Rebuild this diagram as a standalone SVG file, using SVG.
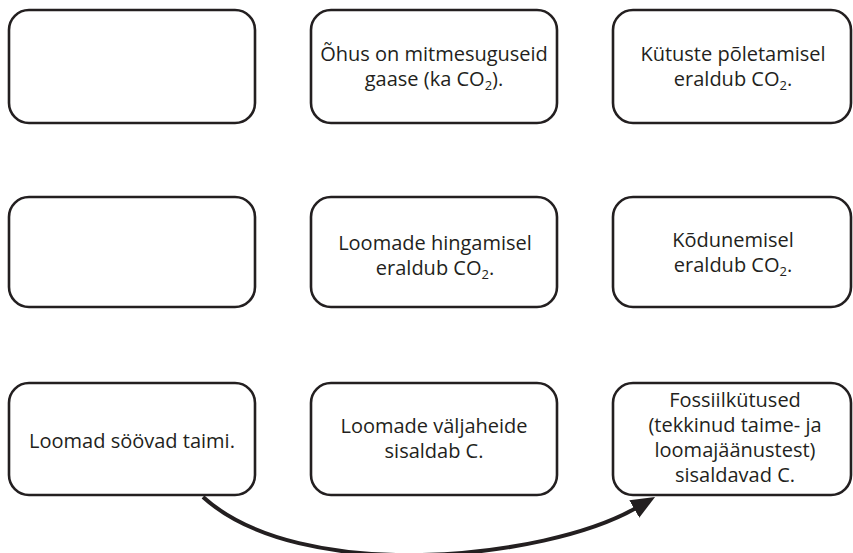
<svg xmlns="http://www.w3.org/2000/svg" width="853" height="553" viewBox="0 0 853 553">
<defs>
<style>
.box{fill:#fff;stroke:#231f20;stroke-width:2.6}
.t{font-family:"Open Sans","Noto Sans","Liberation Sans",sans-serif;font-size:20px;fill:#231f20;text-anchor:middle}
.sub{font-size:13px}
.conn{fill:none;stroke:#231f20;stroke-width:4}
</style>
<marker id="ah" markerUnits="userSpaceOnUse" markerWidth="26" markerHeight="22" refX="2" refY="10" orient="auto" viewBox="0 0 26 22">
<path d="M0,0 L24,10 L0,20 Z" fill="#231f20"/>
</marker>
</defs>
<rect width="853" height="553" fill="#fff"/>
<g id="n1"><rect class="box" x="9" y="10" width="246" height="113" rx="20"/></g>
<g id="n2"><rect class="box" x="311" y="10" width="246" height="113" rx="20"/>
<text class="t" x="434" y="61">Õhus on mitmesuguseid</text>
<text class="t" x="434" y="86">gaase (ka CO<tspan class="sub" dy="4">2</tspan><tspan dy="-4">).</tspan></text></g>
<g id="n3"><rect class="box" x="613" y="10" width="238" height="113" rx="20"/>
<text class="t" x="733" y="61">Kütuste põletamisel</text>
<text class="t" x="733" y="86">eraldub CO<tspan class="sub" dy="4">2</tspan><tspan dy="-4">.</tspan></text></g>
<g id="n4"><rect class="box" x="9" y="197" width="246" height="110" rx="20"/></g>
<g id="n5"><rect class="box" x="311" y="197" width="246" height="110" rx="20"/>
<text class="t" x="435" y="250">Loomade hingamisel</text>
<text class="t" x="435" y="275">eraldub CO<tspan class="sub" dy="4">2</tspan><tspan dy="-4">.</tspan></text></g>
<g id="n6"><rect class="box" x="613" y="197" width="238" height="110" rx="20"/>
<text class="t" x="733" y="247">Kõdunemisel</text>
<text class="t" x="733" y="272">eraldub CO<tspan class="sub" dy="4">2</tspan><tspan dy="-4">.</tspan></text></g>
<g id="n7"><rect class="box" x="9" y="383" width="246" height="112" rx="20"/>
<text class="t" x="132" y="448">Loomad söövad taimi.</text></g>
<g id="n8"><rect class="box" x="311" y="383" width="246" height="112" rx="20"/>
<text class="t" x="434" y="433">Loomade väljaheide</text>
<text class="t" x="434" y="458">sisaldab C.</text></g>
<g id="n9"><rect class="box" x="613" y="383" width="238" height="112" rx="20"/>
<text class="t" x="735" y="407">Fossiilkütused</text>
<text class="t" x="735" y="432">(tekkinud taime- ja</text>
<text class="t" x="735" y="457">loomajäänustest)</text>
<text class="t" x="735" y="482">sisaldavad C.</text></g>
<g id="connectors">
<path class="conn" d="M203,497 C300,585 545,560 636,508" marker-end="url(#ah)"/>
</g>
</svg>
